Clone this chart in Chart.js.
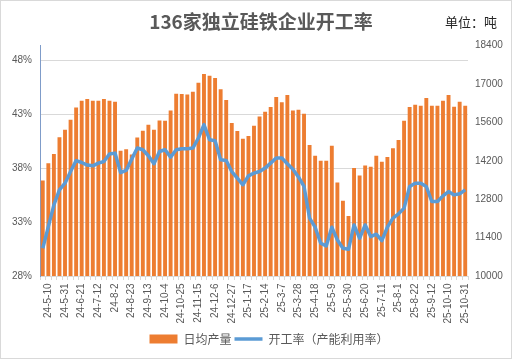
<!DOCTYPE html>
<html>
<head>
<meta charset="utf-8">
<script src="https://cdn.jsdelivr.net/npm/chart.js@4.4.0/dist/chart.umd.min.js"></script>
<style>
    html, body { margin: 0; padding: 0; background: #fff; }
    #wrap { width: 512px; height: 359px; box-sizing: border-box; border: 1px solid #d9d9d9; }
    canvas { display: block; }
</style>
</head>
<body>
<div id="wrap"><canvas id="chart" width="510" height="357" style="width:510px;height:357px"></canvas></div>
<script>
// ===== Данные =====
const weeks = [
    '24-5-3', '24-5-10', '24-5-17', '24-5-24', '24-5-31', '24-6-7', '24-6-14', '24-6-21', '24-6-28',
    '24-7-5', '24-7-12', '24-7-19', '24-7-26', '24-8-2', '24-8-9', '24-8-16', '24-8-23', '24-8-30',
    '24-9-6', '24-9-13', '24-9-20', '24-9-27', '24-10-4', '24-10-11', '24-10-18', '24-10-25',
    '24-11-1', '24-11-8', '24-11-15', '24-11-22', '24-11-29', '24-12-6', '24-12-13', '24-12-20', '24-12-27',
    '25-1-3', '25-1-10', '25-1-17', '25-1-24', '25-2-7', '25-2-14', '25-2-21', '25-2-28',
    '25-3-7', '25-3-14', '25-3-21', '25-3-28', '25-4-4', '25-4-11', '25-4-18', '25-4-25',
    '25-5-2', '25-5-9', '25-5-16', '25-5-23', '25-5-30', '25-6-6', '25-6-13', '25-6-20', '25-6-27',
    '25-7-4', '25-7-11', '25-7-18', '25-7-25', '25-8-1', '25-8-8', '25-8-15', '25-8-22', '25-8-29',
    '25-9-5', '25-9-12', '25-9-19', '25-9-26', '25-10-10', '25-10-17', '25-10-24', '25-10-31'
];

// 日均产量, 吨
const dailyOutput = [
    13480, 14110, 14450, 15060, 15330, 15690, 16140, 16390, 16450, 16390,
    16390, 16450, 16390, 16350, 14560, 14620, 14430, 15050, 15290, 15510,
    15330, 15670, 15660, 16030, 16640, 16630, 16610, 16710, 17040, 17360,
    17300, 17220, 16810, 16410, 15580, 15280, 15000, 15100, 15480, 15810,
    15990, 16160, 16520, 16330, 16600, 16030, 16060, 15910, 14770, 14380,
    14200, 14200, 14750, 13410, 12740, 12190, 13940, 13660, 14030, 13980,
    14380, 14160, 14340, 14660, 14960, 15660, 16160, 16240, 16200, 16490,
    16200, 16200, 16390, 16600, 16170, 16350, 16200
];

// 开工率, %
const operatingRate = [
    30.58, 32.59, 34.6, 36.0, 36.62, 37.7, 38.72, 38.54, 38.3, 38.23,
    38.48, 38.63, 39.32, 39.41, 37.6, 37.8, 38.85, 39.88, 39.72, 39.16,
    38.42, 39.56, 39.72, 39.04, 39.72, 39.81, 39.81, 39.88, 40.81, 42.05,
    40.65, 40.56, 38.79, 38.72, 37.7, 37.09, 36.47, 37.3, 37.55, 37.7,
    38.02, 38.48, 38.95, 38.95, 38.42, 37.92, 37.2, 36.31, 33.37, 32.53,
    31.04, 30.79, 32.53, 31.35, 30.58, 30.48, 32.74, 31.5, 32.74, 31.66,
    31.88, 31.28, 32.53, 33.37, 33.77, 34.3, 36.31, 36.62, 36.62, 36.31,
    34.91, 34.91, 35.44, 35.84, 35.53, 35.63, 36.0
];

const rateTicks = [28, 33, 38, 43, 48];
const outputTicks = [10000, 11400, 12800, 14200, 15600, 17000, 18400];

document.addEventListener('DOMContentLoaded', function() {
    Chart.defaults.font.family = "'Liberation Sans', 'Noto Sans CJK SC', sans-serif";
    Chart.defaults.color = '#595959';

    // Заголовок и подпись единиц
    const headerText = {
        id: 'headerText',
        afterDraw(chart) {
            const ctx = chart.ctx;
            ctx.save();
            ctx.textBaseline = 'middle';
            ctx.textAlign = 'center';
            ctx.font = "bold 19px 'Noto Sans CJK SC'";
            ctx.fillStyle = '#595959';
            ctx.fillText('136家独立硅铁企业开工率', 260, 21);
            ctx.textAlign = 'right';
            ctx.font = "13px 'Noto Sans CJK SC'";
            ctx.fillStyle = '#262626';
            ctx.fillText('单位：吨', 496, 21);
            ctx.restore();
        }
    };

    // Сдвиг легенды вправо, как в оригинале
    const legendShift = {
        id: 'legendShift',
        afterLayout(chart) {
            if (chart.legend) {
                chart.legend.left += 13;
                chart.legend.right += 13;
            }
        }
    };

    const ctx = document.getElementById('chart').getContext('2d');
    new Chart(ctx, {
        data: {
            labels: weeks,
            datasets: [{
                type: 'bar',
                label: '日均产量',
                data: dailyOutput,
                yAxisID: 'yR',
                backgroundColor: '#ED7D31',
                barPercentage: 0.7,
                categoryPercentage: 1,
                pointStyle: 'rect',
                order: 2
            }, {
                type: 'line',
                label: '开工率（产能利用率）',
                data: operatingRate,
                yAxisID: 'y',
                borderColor: '#5B9BD5',
                backgroundColor: '#5B9BD5',
                borderWidth: 3.5,
                borderJoinStyle: 'round',
                pointRadius: 0,
                pointStyle: 'line',
                tension: 0,
                order: 1
            }]
        },
        options: {
            responsive: false,
            animation: false,
            layout: { padding: { top: 44.5, left: 0, right: 0, bottom: 3 } },
            plugins: {
                title: { display: false },
                legend: {
                    position: 'bottom',
                    labels: {
                        usePointStyle: true,
                        pointStyleWidth: 28,
                        boxHeight: 9,
                        padding: 3,
                        color: '#595959',
                        font: { size: 12, family: "'Noto Sans CJK SC'" },
                        sort: (a, b) => a.datasetIndex - b.datasetIndex
                    }
                },
                tooltip: { enabled: false }
            },
            scales: {
                x: {
                    offset: true,
                    afterFit: axis => { axis.height = 54; },
                    grid: { display: true, drawOnChartArea: false, offset: true, tickLength: 4, color: '#d9d9d9' },
                    border: { color: '#d9d9d9' },
                    ticks: {
                        autoSkip: false,
                        minRotation: 90,
                        maxRotation: 90,
                        padding: 3.5,
                        font: { size: 10 },
                        callback: (v, i) => (i % 3 === 1 ? weeks[i] : '')
                    }
                },
                y: {
                    position: 'left',
                    min: 28,
                    max: 49.4,
                    afterFit: axis => { axis.width = 39; },
                    afterBuildTicks: axis => { axis.ticks = rateTicks.map(v => ({ value: v })); },
                    grid: { color: '#d9d9d9', drawTicks: false },
                    border: { color: '#7f9cc9' },
                    ticks: { padding: 8, font: { size: 10 }, callback: v => v + '%' }
                },
                yR: {
                    position: 'right',
                    min: 10000,
                    max: 18400,
                    afterFit: axis => { axis.width = 43; },
                    afterBuildTicks: axis => { axis.ticks = outputTicks.map(v => ({ value: v })); },
                    grid: { display: false, drawTicks: false },
                    border: { display: false },
                    ticks: { padding: 7, font: { size: 10 }, callback: v => String(v) }
                }
            }
        },
        plugins: [headerText, legendShift]
    });
});
</script>
</body>
</html>
